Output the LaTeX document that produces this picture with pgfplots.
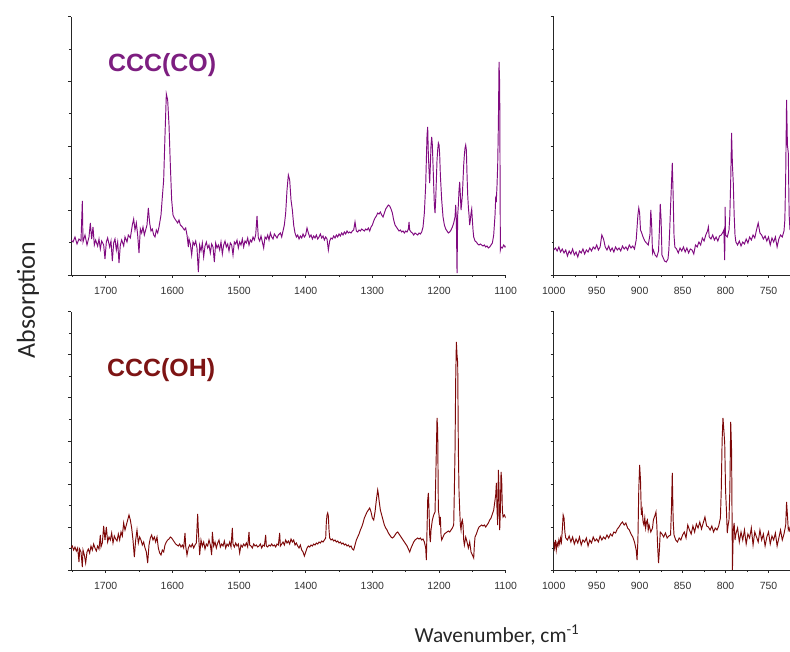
\documentclass[border=0pt]{standalone}
\usepackage{fontspec}
\setmainfont{Liberation Sans}
\newfontfamily\labfont{Carlito}
\usepackage{pgfplots}
\usepackage{pgfplotstable}
\pgfplotsset{compat=1.18}
\definecolor{specpurple}{RGB}{128,10,128}
\definecolor{specred}{RGB}{125,8,8}
\definecolor{txtpurple}{RGB}{125,30,128}
\definecolor{txtred}{RGB}{125,20,20}

\pgfplotstableread{
wn val
1752 35
1749 33
1746 38
1743 31
1740 36
1737 34
1735 74
1734 33
1731 40
1728 30
1725 38
1723 52
1721 36
1719 48
1717 30
1715 35
1712 29
1710 36
1708 26
1706 34
1703 30
1701 16
1699 33
1697 37
1694 28
1692 34
1690 14
1688 32
1686 36
1684 25
1682 33
1680 12
1678 30
1676 35
1673 29
1671 38
1668 33
1666 40
1663 37
1660 50
1658 56
1656 45
1654 52
1652 40
1650 22
1648 46
1646 42
1644 48
1642 40
1640 45
1638 50
1636 67
1634 52
1632 44
1630 46
1628 40
1626 38
1624 45
1622 42
1620 48
1617 60
1615 78
1613 95
1611 140
1609 181
1607 175
1605 150
1603 110
1601 75
1599 60
1597 57
1595 55
1592 52
1590 55
1588 50
1585 48
1582 45
1580 47
1578 40
1576 28
1575 36
1573 31
1571 20
1569 33
1567 30
1565 34
1563 27
1561 3
1559 30
1557 24
1555 32
1553 18
1551 29
1549 33
1547 27
1545 30
1543 22
1541 31
1539 28
1537 13
1535 32
1533 27
1531 30
1529 25
1527 33
1525 21
1523 30
1521 34
1519 28
1517 31
1515 24
1513 32
1511 30
1509 20
1507 33
1505 31
1503 35
1501 27
1499 33
1497 30
1495 36
1493 28
1491 34
1489 32
1487 37
1485 30
1483 35
1481 33
1479 38
1477 35
1475 40
1473 59
1471 37
1469 34
1467 39
1465 33
1463 27
1461 38
1459 36
1457 40
1455 35
1453 42
1451 38
1449 36
1447 41
1445 39
1443 37
1441 40
1438 42
1436 38
1434 44
1432 50
1430 62
1428 85
1426 100
1424 95
1422 75
1420 65
1418 50
1416 42
1414 38
1412 40
1410 36
1408 39
1406 37
1404 41
1402 38
1400 40
1398 47
1396 42
1394 38
1392 40
1390 36
1388 39
1386 37
1384 40
1382 36
1380 38
1378 41
1376 37
1374 39
1372 35
1370 38
1368 36
1366 25
1364 34
1362 37
1360 36
1358 39
1356 37
1354 40
1352 38
1350 41
1348 39
1346 42
1344 40
1342 43
1340 41
1338 44
1336 42
1334 43
1332 42
1330 44
1328 45
1326 53
1324 44
1322 43
1320 45
1318 44
1316 46
1314 45
1312 44
1310 46
1308 45
1306 47
1304 44
1302 48
1300 50
1298 54
1296 57
1294 59
1292 62
1290 61
1288 63
1286 60
1284 58
1282 62
1280 66
1278 68
1276 70
1274 69
1272 66
1270 62
1268 55
1266 50
1264 48
1262 46
1260 44
1258 45
1256 43
1254 44
1252 42
1250 44
1248 43
1246 46
1245 53
1244 45
1242 43
1240 42
1238 40
1236 42
1234 41
1232 40
1230 42
1228 41
1226 43
1224 48
1222 62
1220 90
1218 140
1217 148
1216 120
1215 105
1214 92
1213 110
1212 130
1211 138
1210 130
1209 110
1208 90
1207 70
1206 62
1205 75
1204 95
1203 115
1202 125
1201 132
1200 130
1199 120
1198 100
1196 75
1194 58
1192 50
1190 46
1188 44
1186 42
1184 43
1182 45
1180 48
1178 52
1176 58
1175 70
1174 55
1173 2
1172 60
1171 70
1170 85
1169 93
1168 80
1167 65
1166 72
1165 80
1164 95
1163 110
1162 120
1161 127
1160 130
1159 125
1158 100
1157 80
1156 68
1155 60
1154 50
1153 55
1152 62
1151 66
1150 55
1149 45
1148 38
1146 34
1144 33
1142 31
1140 30
1138 31
1136 30
1134 29
1132 30
1130 28
1128 29
1126 27
1124 28
1122 30
1120 32
1118 40
1116 60
1115 77
1114 75
1113 90
1112 110
1111 150
1110 213
1109 190
1108 25
1107 28
1105 27
1103 30
1101 28
1100 29
}\TL

\pgfplotstableread{
wn val
1000 25
998 27
996 24
994 28
992 23
990 26
988 22
986 25
984 19
982 24
980 21
978 26
976 20
974 23
972 18
970 24
968 22
966 26
964 21
962 25
960 23
958 27
956 24
954 28
952 26
950 30
948 25
946 28
944 40
942 36
940 28
938 25
936 29
934 24
932 27
930 23
928 28
926 25
924 27
922 24
920 29
918 26
916 28
914 25
912 30
910 27
908 29
906 26
904 35
902 60
901 67
900 62
899 45
898 43
896 38
894 34
892 32
890 30
888 40
887 65
886 50
885 22
884 25
882 20
880 18
878 24
877 45
876 71
875 55
874 20
873 18
871 14
869 13
867 16
866 25
865 45
864 68
863 90
862 112
861 80
860 40
859 28
857 26
855 22
853 27
851 24
849 28
847 23
845 27
843 22
841 26
839 25
837 21
835 30
833 28
831 33
829 30
827 37
825 34
823 40
821 44
820 48
819 38
817 36
815 40
813 35
811 38
809 34
807 39
805 40
803 43
802 45
801 15
800.5 68
800 40
798 38
796 45
795 60
794 95
793 142
792 110
791 92
790 60
789 40
788 33
786 30
784 34
782 29
780 33
778 31
776 36
774 32
772 38
770 35
768 40
766 37
764 45
762 52
760 42
758 40
756 36
754 39
752 34
750 38
748 30
746 37
744 33
742 38
740 28
738 36
736 40
734 38
732 44
731 55
730 100
729 175
728 130
727 122
726 60
725 45
}\TR

\pgfplotstableread{
wn val
1752 22
1750 24
1748 20
1746 23
1744 19
1742 22
1740 8
1739 21
1737 18
1735 3
1734 20
1732 15
1730 7
1728 18
1726 21
1724 17
1722 24
1720 20
1718 26
1716 22
1714 19
1712 24
1710 21
1708 35
1707 23
1705 27
1703 44
1701 30
1699 43
1697 28
1695 33
1693 30
1691 37
1689 27
1687 34
1685 31
1683 29
1681 36
1679 30
1677 38
1675 34
1673 47
1671 40
1669 45
1667 50
1665 55
1663 50
1661 42
1659 30
1657 13
1655 30
1653 40
1651 27
1649 33
1647 30
1645 25
1643 28
1641 22
1639 18
1637 7
1635 25
1633 32
1631 35
1629 30
1627 33
1625 28
1623 33
1621 22
1619 17
1617 15
1615 20
1613 18
1611 25
1609 28
1607 30
1605 31
1603 33
1601 32
1599 30
1597 28
1595 26
1593 25
1591 24
1589 26
1587 23
1585 25
1583 22
1581 37
1580 24
1578 15
1576 22
1574 25
1572 23
1570 26
1568 22
1566 25
1564 27
1562 56
1561 40
1559 15
1557 30
1555 24
1553 28
1551 21
1549 26
1547 24
1545 30
1543 25
1541 15
1540 38
1538 24
1536 28
1534 22
1532 27
1530 30
1528 23
1526 26
1524 24
1522 29
1520 22
1518 26
1516 24
1514 28
1512 23
1510 42
1509 26
1507 23
1505 27
1503 24
1501 26
1499 17
1497 25
1495 23
1493 26
1491 24
1489 27
1487 23
1485 38
1484 25
1482 24
1480 22
1478 26
1476 24
1474 25
1472 23
1470 24
1468 26
1466 22
1464 25
1462 24
1460 35
1459 24
1457 23
1455 25
1453 24
1451 26
1449 24
1447 25
1445 23
1443 26
1441 25
1439 37
1438 24
1436 26
1434 28
1432 25
1430 30
1428 27
1426 29
1424 26
1422 31
1420 28
1418 30
1416 25
1414 27
1412 24
1410 22
1408 25
1406 20
1404 18
1402 14
1400 18
1398 22
1396 24
1394 23
1392 25
1390 24
1388 26
1386 25
1384 27
1382 26
1380 28
1378 27
1376 29
1374 28
1372 30
1370 32
1369 48
1368 55
1367 57
1366 54
1365 40
1364 32
1362 30
1360 31
1358 29
1356 30
1354 28
1352 29
1350 27
1348 28
1346 26
1344 27
1342 25
1340 26
1338 24
1336 25
1334 23
1332 24
1330 21
1328 20
1326 25
1324 30
1322 33
1320 36
1318 40
1316 43
1314 47
1312 52
1310 55
1308 58
1306 60
1304 62
1302 58
1300 52
1298 50
1296 58
1294 70
1292 80
1291 76
1290 70
1288 60
1286 55
1284 50
1282 45
1280 42
1278 40
1276 37
1274 35
1272 33
1270 32
1268 33
1266 35
1264 37
1262 38
1260 36
1258 34
1256 32
1254 30
1252 28
1250 26
1248 24
1246 21
1244 18
1242 22
1240 25
1238 28
1236 30
1234 31
1232 32
1230 31
1228 32
1226 30
1224 31
1222 28
1220 22
1219 10
1218 40
1217 70
1216 77
1215 60
1214 35
1213 28
1212 40
1210 50
1208 55
1206 58
1204 120
1203 152
1202 140
1201 60
1200 55
1199 45
1198 53
1197 35
1196 30
1194 33
1192 36
1190 37
1188 38
1186 39
1184 38
1182 40
1180 42
1178 45
1177 80
1176 120
1175 190
1174 228
1173 215
1172 207
1171 120
1170 78
1169 60
1168 45
1167 40
1166 48
1165 50
1164 45
1163 30
1162 25
1160 33
1158 28
1156 22
1154 28
1152 18
1150 15
1148 12
1147 25
1146 33
1144 36
1142 40
1140 43
1138 44
1136 45
1134 44
1132 45
1130 43
1128 45
1126 47
1124 50
1122 52
1120 56
1118 60
1116 70
1115 75
1114 87
1113 60
1112 45
1111 100
1110 80
1109 40
1108 60
1107 98
1106 90
1105 60
1104 53
1102 55
1100 52
}\BL

\pgfplotstableread{
wn val
1000 28
999 22
998 30
997 20
996 27
995 24
994 30
993 26
992 32
991 28
990 40
989 55
988 52
987 38
986 32
984 30
982 34
980 28
978 33
976 26
974 31
972 27
970 33
968 25
966 30
964 28
962 32
960 24
958 30
956 27
954 33
952 29
950 31
948 28
946 34
944 30
942 33
940 31
938 35
936 32
934 36
932 34
930 38
928 37
926 41
924 43
922 46
920 48
918 45
916 47
914 42
912 40
910 36
908 33
906 28
904 20
903 10
902 30
901 80
900 105
899 90
898 55
897 60
896 48
895 45
894 52
893 42
892 48
891 50
890 40
889 45
887 38
885 42
884 50
882 55
881 58
880 45
879 23
878 7
877 20
876 38
874 36
872 33
870 37
868 32
866 34
864 35
863 60
862 97
861 50
860 35
858 30
856 28
854 32
852 30
850 35
848 38
846 32
844 45
842 40
840 36
838 44
836 38
834 46
832 42
830 48
828 41
826 47
824 53
822 44
820 43
818 40
816 44
814 38
812 42
810 40
808 44
806 52
805 80
804 130
803 152
802 140
801 127
800 80
799 60
798 37
797 45
796 50
795 80
794 148
793 120
792 0
791 40
790 47
789 30
788 36
786 42
784 28
782 38
780 30
778 40
776 26
774 36
772 32
770 42
768 25
766 38
764 33
762 28
760 40
758 30
756 36
754 24
752 33
750 38
748 26
746 34
744 30
742 37
740 24
738 32
736 40
734 30
732 36
730 45
729 68
728 55
727 40
726 42
725 38
}\BR

\pgfplotsset{
  spec/.style={
    scale only axis,
    axis lines*=left,
    x dir=reverse,
    ymin=0, ymax=258.3,
    yticklabels={},
    tick align=outside,
    major tick length=3bp,
    minor tick length=2bp,
    axis line style={line width=0.8bp, black!85},
    every tick/.style={black!85, line width=0.6bp},
    /pgf/number format/assume math mode=true,
    /pgf/number format/1000 sep={},
    x tick label style={font=\fontsize{10.5}{12}\selectfont, text=black!80, yshift=-5.5bp},
    clip=true,
  },
  specL/.style={spec, width=434.7bp, xmin=1100, xmax=1752,
    xtick={1100,1200,...,1700}, minor xtick={1150,1250,...,1750}},
  specR/.style={spec, width=236.3bp, xmin=725, xmax=1000,
    xtick={750,800,...,1000}, minor xtick={775,825,...,975}},
  top/.style={height=258.3bp, ytick={0,64.575,129.15,193.725,258.3}, minor y tick num=1},
  bot/.style={height=258.3bp, ytick={0,43.05,86.1,129.15,172.2,215.25,258.3}, minor y tick num=1},
}

\begin{document}
\begin{tikzpicture}
\useasboundingbox (0,0) rectangle (790bp,652bp);

\begin{axis}[specL, top, at={(71bp,377bp)}, anchor=south west]
\addplot[specpurple, line width=0.95bp, mark=none] table[x=wn, y=val] {\TL};
\end{axis}

\begin{axis}[specR, top, at={(553.7bp,377bp)}, anchor=south west]
\addplot[specpurple, line width=0.95bp, mark=none] table[x=wn, y=val] {\TR};
\end{axis}

\begin{axis}[specL, bot, at={(71bp,82bp)}, anchor=south west]
\addplot[specred, line width=0.95bp, mark=none] table[x=wn, y=val] {\BL};
\end{axis}

\begin{axis}[specR, bot, at={(553.7bp,82bp)}, anchor=south west]
\addplot[specred, line width=0.95bp, mark=none] table[x=wn, y=val] {\BR};
\end{axis}

\node[anchor=base west, inner sep=0, text=txtpurple, font=\fontsize{25}{29}\selectfont\bfseries] at (108bp,580.3bp) {CCC(CO)};
\node[anchor=base west, inner sep=0, text=txtred, font=\fontsize{25}{29}\selectfont\bfseries] at (107bp,275.3bp) {CCC(OH)};

\node[inner sep=0, rotate=90, font=\labfont\fontsize{26}{30}\selectfont, text=black!85] at (28bp,352bp) {Absorption};
\node[inner sep=0, font=\labfont\fontsize{21.5}{24}\selectfont, text=black!85] at (497bp,17bp) {Wavenumber,\ cm\textsuperscript{-1}};
\end{tikzpicture}
\end{document}
